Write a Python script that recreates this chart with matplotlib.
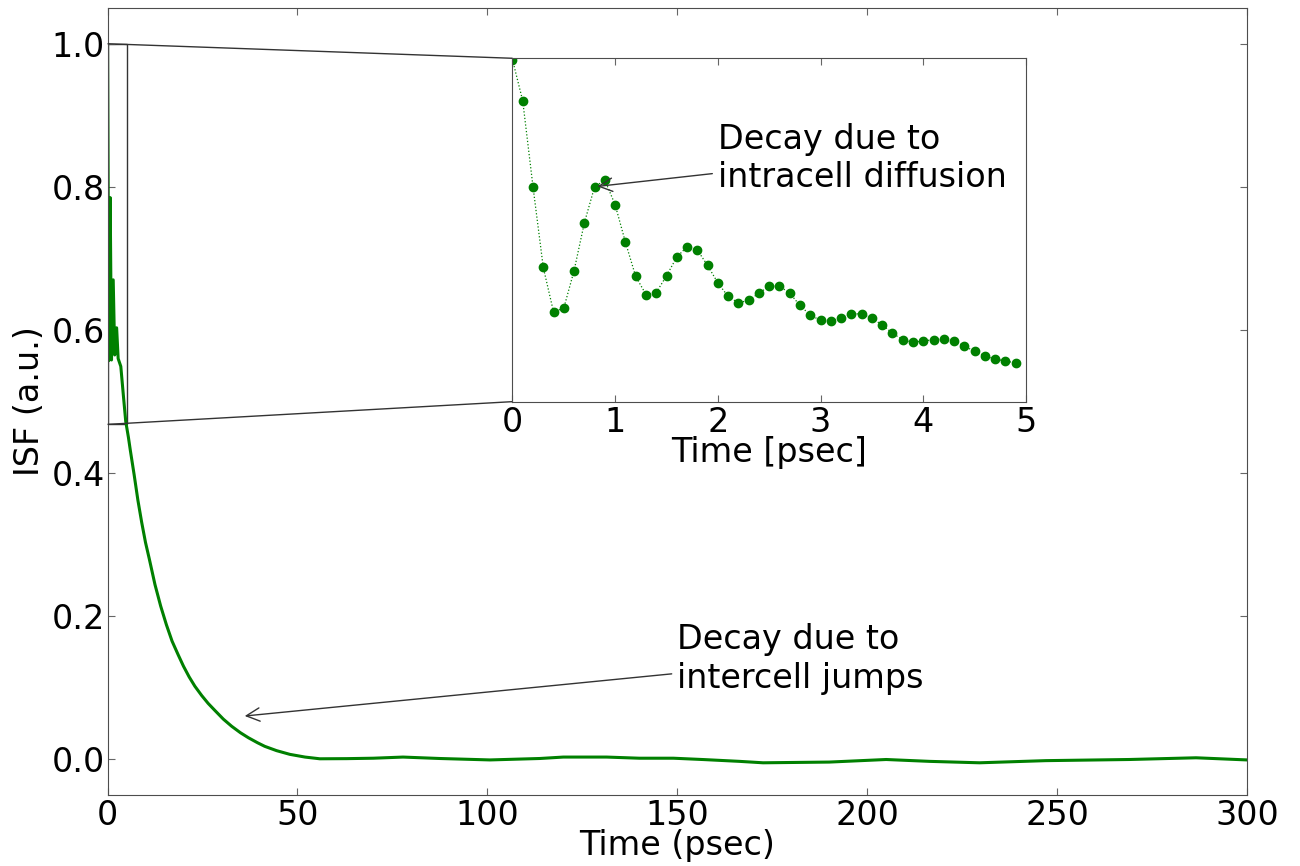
import matplotlib
matplotlib.use("Agg")
import matplotlib.pyplot as plt
from mpl_toolkits.axes_grid1.inset_locator import mark_inset

# main curve: ISF over the full 300 psec run
main_time = [0, 0.35, 0.7, 1.05, 1.5, 1.9, 2.4, 2.8, 3.5, 4.2, 4.8, 5.5, 6.0, 7.0,
             8.0, 9.0, 10.0, 11.0, 12.5, 14.0, 15.5, 17.0, 18.6, 20.0, 21.5, 23.0,
             24.8, 26.5, 28.3, 30.5, 32.7, 35.0, 37.1, 39.5, 41.4, 44.5, 48.0,
             52.0, 55.9, 63, 70, 77.8, 87.5, 100.7, 113.8, 120, 131.4, 140, 149,
             157, 166.4, 172.6, 190, 205, 216.4, 229.6, 247, 269, 286.6, 300]
main_isf = [1.0, 0.557, 0.785, 0.558, 0.67, 0.565, 0.603, 0.56, 0.549, 0.507, 0.472,
            0.45, 0.432, 0.398, 0.362, 0.331, 0.303, 0.280, 0.244, 0.214, 0.188,
            0.165, 0.146, 0.130, 0.115, 0.102, 0.089, 0.078, 0.068, 0.056, 0.046,
            0.037, 0.030, 0.023, 0.018, 0.012, 0.0068, 0.003, 0.0006, 0.0008,
            0.0014, 0.003, 0.001, -0.001, 0.001, 0.003, 0.003, 0.0014, 0.0014,
            -0.0005, -0.003, -0.005, -0.004, -0.0004, -0.003, -0.005, -0.002,
            -0.0004, 0.002, -0.001]

# inset: first 5 psec, sampled every 0.1 psec
inset_time = [0.0, 0.1, 0.2, 0.3, 0.4, 0.5, 0.6, 0.7, 0.8, 0.9,
              1.0, 1.1, 1.2, 1.3, 1.4, 1.5, 1.6, 1.7, 1.8, 1.9,
              2.0, 2.1, 2.2, 2.3, 2.4, 2.5, 2.6, 2.7, 2.8, 2.9,
              3.0, 3.1, 3.2, 3.3, 3.4, 3.5, 3.6, 3.7, 3.8, 3.9,
              4.0, 4.1, 4.2, 4.3, 4.4, 4.5, 4.6, 4.7, 4.8, 4.9]
inset_isf = [0.998, 0.934, 0.801, 0.676, 0.607, 0.613, 0.671, 0.745, 0.801, 0.811,
             0.773, 0.715, 0.662, 0.634, 0.637, 0.663, 0.692, 0.708, 0.703, 0.679,
             0.652, 0.631, 0.621, 0.625, 0.636, 0.647, 0.647, 0.636, 0.617, 0.602,
             0.594, 0.593, 0.598, 0.604, 0.604, 0.597, 0.587, 0.574, 0.564, 0.560,
             0.562, 0.564, 0.565, 0.562, 0.554, 0.546, 0.539, 0.534, 0.531, 0.528]

main_xticks = [0, 50, 100, 150, 200, 250, 300]
main_yticks = [0.0, 0.2, 0.4, 0.6, 0.8, 1.0]
inset_xticks = [0, 1, 2, 3, 4, 5]

FS = 24
NOTE_FS = 24
plt.rcParams["font.family"] = ["DejaVu Sans"]
plt.rcParams["xtick.direction"] = "in"
plt.rcParams["ytick.direction"] = "in"
plt.rcParams["xtick.top"] = True
plt.rcParams["ytick.right"] = True
plt.rcParams["axes.edgecolor"] = "0.3"

fig = plt.figure(figsize=(13, 8.66), dpi=100)
ax = fig.add_axes([0.0827, 0.082, 0.8765, 0.9088])
ax.plot(main_time, main_isf, color="green", lw=2.2)
ax.set_xlim(0, 300)
ax.set_ylim(-0.05, 1.05)
ax.set_xticks(main_xticks)
ax.set_yticks(main_yticks)
ax.set_yticklabels([f"{v:.1f}" for v in main_yticks])
ax.tick_params(axis="x", labelsize=FS, pad=3, length=5, color="0.4")
ax.tick_params(axis="y", labelsize=FS, pad=2, length=5, color="0.4")
ax.set_xlabel("Time (psec)", fontsize=FS, labelpad=-2)
ax.set_ylabel("ISF (a.u.)", fontsize=FS, labelpad=4)

ax.annotate("Decay due to\nintercell jumps", xy=(35.4, 0.06), xytext=(150, 0.1),
            fontsize=NOTE_FS, ha="left", va="baseline",
            arrowprops=dict(arrowstyle="->", color="0.2", lw=1, relpos=(0, 0.3)))

axins = fig.add_axes([0.3942, 0.5362, 0.3950, 0.3965])
axins.plot(inset_time, inset_isf, color="green", ls=":", lw=0.9, marker="o",
           ms=6, mec="green", mfc="green")
axins.set_xlim(0, 5)
axins.set_ylim(0.468, 1.0)
axins.set_xticks(inset_xticks)
axins.set_yticks([])
axins.tick_params(axis="x", labelsize=FS, pad=3, length=5, color="0.4")
axins.set_xlabel("Time [psec]", fontsize=FS, labelpad=-2)

axins.annotate("Decay due to\nintracell diffusion", xy=(0.8, 0.801), xytext=(2.0, 0.80),
               fontsize=NOTE_FS, ha="left", va="baseline",
               arrowprops=dict(arrowstyle="->", color="0.2", lw=1, relpos=(0, 0.3)))

mark_inset(ax, axins, loc1=2, loc2=3, fc="none", ec="0.2", lw=1)

fig.savefig("out.png", dpi=100)
